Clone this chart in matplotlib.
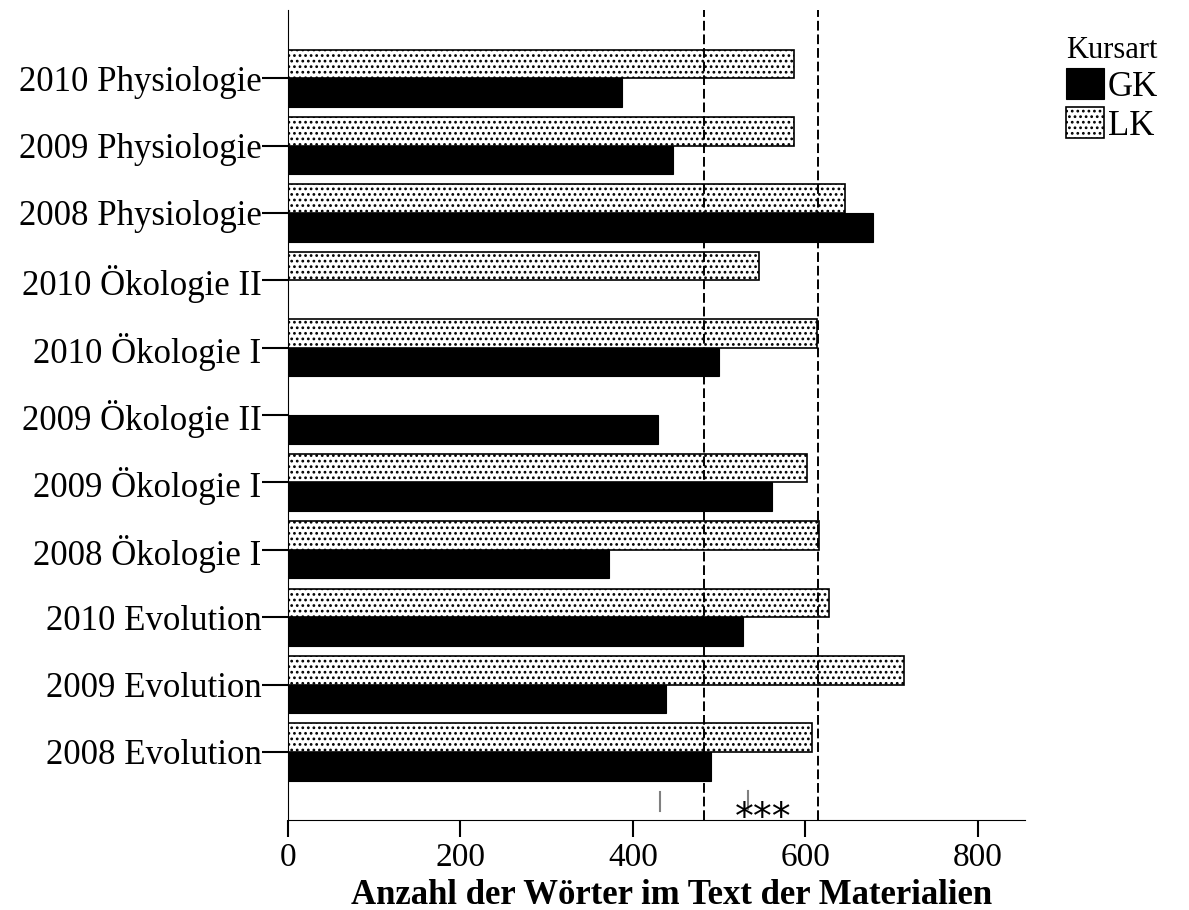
import matplotlib.pyplot as plt
import numpy as np

plt.rcParams['font.family'] = ['Liberation Serif', 'DejaVu Serif']
plt.rcParams['hatch.linewidth'] = 1.2

categories = ['2008 Evolution', '2009 Evolution', '2010 Evolution',
              '2008 Ökologie I', '2009 Ökologie I', '2009 Ökologie II',
              '2010 Ökologie I', '2010 Ökologie II', '2008 Physiologie',
              '2009 Physiologie', '2010 Physiologie']
gk = [491, 438, 528, 372, 561, 429, 500, np.nan, 678, 447, 387]
lk = [608, 714, 627, 616, 602, np.nan, 614, 546, 646, 587, 587]
ref_lines = [483, 615]
marks = [432, 533]

fig = plt.figure(figsize=(11.89, 9.10), dpi=100)
ax = fig.add_axes([0.2422, 0.0989, 0.62, 0.89])

y = np.arange(len(categories))
h = 0.425
ax.barh(y - h / 2, gk, height=h, color='black', edgecolor='black', lw=0.8, label='GK')
ax.barh(y + h / 2, lk, height=h, color='white', edgecolor='black', lw=1.2,
        hatch='...', label='LK')

for v in ref_lines:
    ax.axvline(v, color='black', ls=(0, (5, 2)), lw=1.4)

# significance marks
ax.plot([marks[0], marks[0]], [-0.6, -0.88], color='grey', lw=1.5)
ax.plot([marks[1], marks[1]], [-0.58, -0.85], color='grey', lw=1.5)
ax.text(551, -0.99, '***', ha='center', va='center', fontsize=27,
        family='DejaVu Sans')

ax.set_xlim(0, 855)
ax.set_ylim(-1.01, 11.01)
ax.set_yticks(y)
ax.set_yticklabels(categories, fontsize=25)
ax.set_xticks([0, 200, 400, 600, 800])
ax.tick_params(axis='x', labelsize=24, length=12, width=1.5, direction='out', pad=4)
ax.tick_params(axis='y', length=19, width=1.5, pad=0, direction='out')
ax.spines['top'].set_visible(False)
ax.spines['right'].set_visible(False)
ax.set_xlabel('Anzahl der Wörter im Text der Materialien', fontsize=25,
              fontweight='bold')
ax.xaxis.set_label_coords(0.52, -0.073)

handles, labels = ax.get_legend_handles_labels()
fig.legend(handles, labels, title='Kursart', loc='upper right',
           bbox_to_anchor=(1.0, 0.995), frameon=False, fontsize=25,
           title_fontsize=22, handlelength=1.1, handleheight=1.0,
           handletextpad=0.1, labelspacing=0.1)

fig.savefig('out.png', dpi=100)
